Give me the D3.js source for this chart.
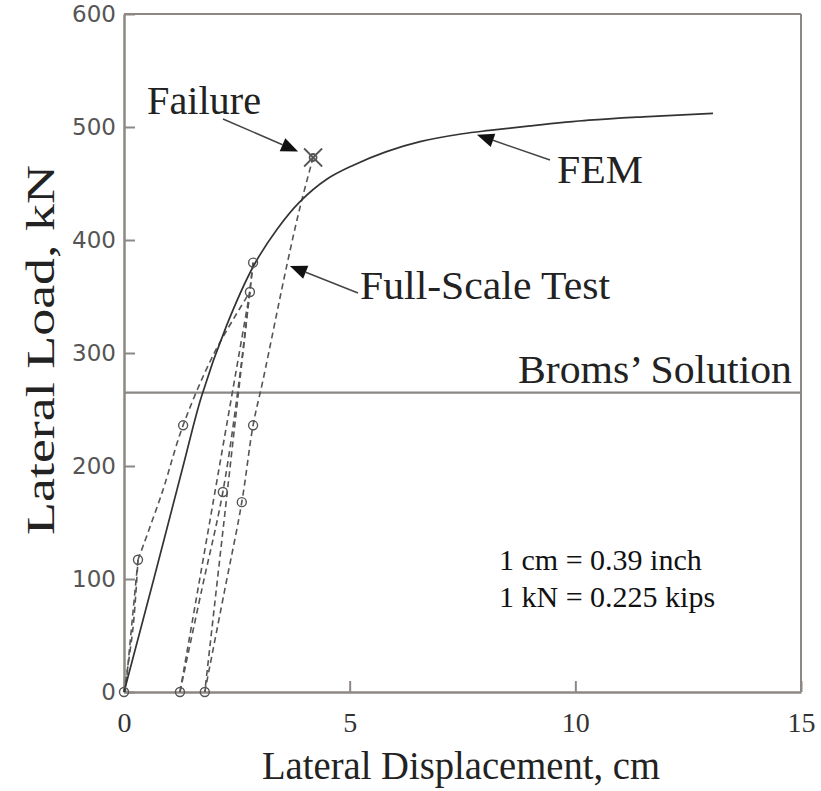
<!DOCTYPE html>
<html>
<head>
<meta charset="utf-8">
<script src="https://cdn.jsdelivr.net/npm/d3@7"></script>
<style>
  html, body { margin: 0; padding: 0; background: #ffffff; }
  svg { display: block; }
</style>
</head>
<body>
<svg id="chart" width="821" height="791"></svg>
<script>
// Tick values
const xTicks = [0, 5, 10, 15];
const yTicks = [0, 100, 200, 300, 400, 500, 600];

// FEM prediction: [displacement cm, load kN]
const femCurve = [
  [0, 0], [0.66, 100], [1.31, 200], [1.72, 262], [2.27, 324], [2.87, 377],
  [3.4, 410], [3.9, 434], [4.5, 454], [5.07, 466], [5.8, 478], [6.56, 487],
  [7.5, 494], [8.1, 497], [9.0, 501], [10.3, 506], [11.5, 509], [13.05, 512]
];

// Full-scale test, load / unload / reload branches
const testLoad0 = [[0, 0], [0.2, 57], [0.31, 117]];
const testUnload0 = [[0.31, 117], [0.03, 0]];
const testLoad1 = [[0.31, 117], [0.84, 176], [1.31, 236], [2.0, 300], [2.79, 354]];
const testUnload1 = [[2.79, 354], [1.24, 0]];
const testReload1 = [[1.24, 0], [1.72, 90], [2.19, 177], [2.55, 275], [2.86, 380]];
const testUnload2 = [[2.86, 380], [1.79, 0]];
const testReload2 = [[1.79, 0], [2.22, 88], [2.61, 168], [2.86, 236], [3.08, 276], [3.61, 378], [3.9, 429], [4.19, 473]];

// Measured points marked with circles
const testPoints = [
  [0, 0], [0.31, 117], [1.31, 236], [2.79, 354], [2.86, 380],
  [1.24, 0], [2.19, 177], [1.79, 0], [2.61, 168], [2.86, 236]
];
const failurePoint = [4.19, 473];

// Broms' ultimate lateral load
const bromsLoad = 265;

const svg = d3.select("#chart");
const x = d3.scaleLinear().domain([0, 15]).range([124, 801]);
const y = d3.scaleLinear().domain([0, 600]).range([692, 14]);

const axisColor = "#8d8883";
const serif = "'Liberation Serif', 'Times New Roman', serif";
const sans = "'DejaVu Sans', Verdana, sans-serif";

// Frame: top and right edges
svg.append("line").attr("x1", x(0)).attr("x2", x(15)).attr("y1", y(600)).attr("y2", y(600))
  .attr("stroke", axisColor).attr("stroke-width", 2);
svg.append("line").attr("x1", x(15)).attr("x2", x(15)).attr("y1", y(600)).attr("y2", y(0))
  .attr("stroke", axisColor).attr("stroke-width", 2);

// Y axis
const gy = svg.append("g").attr("transform", `translate(${x(0)},0)`)
  .call(d3.axisLeft(y).tickValues(yTicks).tickSizeInner(-11).tickSizeOuter(0).tickPadding(8));
gy.select(".domain").attr("stroke", axisColor).attr("stroke-width", 2.5);
gy.selectAll(".tick line").attr("stroke", axisColor).attr("stroke-width", 2);
gy.selectAll(".tick text").attr("font-family", sans).attr("font-size", 23).attr("fill", "#555");

// X axis
const gx = svg.append("g").attr("transform", `translate(0,${y(0)})`)
  .call(d3.axisBottom(x).tickValues(xTicks).tickSizeInner(-11).tickSizeOuter(0).tickPadding(20));
gx.select(".domain").attr("stroke", axisColor).attr("stroke-width", 2.5);
gx.selectAll(".tick line").attr("stroke", axisColor).attr("stroke-width", 2);
gx.selectAll(".tick text").attr("font-family", serif).attr("font-size", 28).attr("fill", "#333");

// Axis titles
svg.append("text").attr("x", 262).attr("y", 779)
  .attr("textLength", 398).attr("lengthAdjust", "spacingAndGlyphs")
  .attr("font-family", serif).attr("font-size", 40).attr("fill", "#222")
  .text("Lateral Displacement, cm");
svg.append("text").attr("transform", "translate(54,535) rotate(-90)")
  .attr("textLength", 370).attr("lengthAdjust", "spacingAndGlyphs")
  .attr("font-family", serif).attr("font-size", 40).attr("fill", "#222")
  .text("Lateral Load, kN");

// Broms' solution
svg.append("line").attr("x1", x(0)).attr("x2", x(15)).attr("y1", y(bromsLoad)).attr("y2", y(bromsLoad))
  .attr("stroke", "#8a8785").attr("stroke-width", 2.2);
svg.append("text").attr("x", 518).attr("y", 383)
  .attr("textLength", 274).attr("lengthAdjust", "spacingAndGlyphs")
  .attr("font-family", serif).attr("font-size", 39).attr("fill", "#222").text("Broms\u2019 Solution");

// Test branches (dashed)
const line = d3.line().x(d => x(d[0])).y(d => y(d[1]));
const smooth = d3.line().x(d => x(d[0])).y(d => y(d[1])).curve(d3.curveCatmullRom.alpha(0.5));
const dashed = [testLoad0, testUnload0, testLoad1, testUnload1, testReload1, testUnload2, testReload2];
svg.append("g").selectAll("path").data(dashed).join("path")
  .attr("d", d => d.length > 2 ? smooth(d) : line(d))
  .attr("fill", "none").attr("stroke", "#555").attr("stroke-width", 1.6)
  .attr("stroke-dasharray", "6,4");

// FEM curve
svg.append("path").datum(femCurve)
  .attr("d", d3.line().x(d => x(d[0])).y(d => y(d[1])).curve(d3.curveCatmullRom.alpha(0.5)))
  .attr("fill", "none").attr("stroke", "#333").attr("stroke-width", 1.7);

// Test point markers
svg.append("g").selectAll("circle").data(testPoints).join("circle")
  .attr("cx", d => x(d[0])).attr("cy", d => y(d[1])).attr("r", 4.5)
  .attr("fill", "none").attr("stroke", "#555").attr("stroke-width", 1.4);

// Failure marker
const fx = x(failurePoint[0]), fy = y(failurePoint[1]);
const fm = svg.append("g").attr("stroke", "#555").attr("stroke-width", 1.8);
fm.append("line").attr("x1", fx - 9).attr("y1", fy - 9).attr("x2", fx + 9).attr("y2", fy + 9);
fm.append("line").attr("x1", fx - 9).attr("y1", fy + 9).attr("x2", fx + 9).attr("y2", fy - 9);
fm.append("circle").attr("cx", fx).attr("cy", fy).attr("r", 3.5).attr("fill", "none");

// Leader arrows with filled heads
function arrow(fromX, fromY, tipX, tipY) {
  const ang = Math.atan2(tipY - fromY, tipX - fromX);
  const len = 17, half = 7;
  const bx = tipX - len * Math.cos(ang), by = tipY - len * Math.sin(ang);
  svg.append("line").attr("x1", fromX).attr("y1", fromY).attr("x2", bx).attr("y2", by)
    .attr("stroke", "#444").attr("stroke-width", 1.5);
  const pts = [
    [tipX, tipY],
    [bx + half * Math.sin(ang), by - half * Math.cos(ang)],
    [bx - half * Math.sin(ang), by + half * Math.cos(ang)]
  ];
  svg.append("polygon").attr("points", pts.map(p => p.join(",")).join(" ")).attr("fill", "#111");
}

arrow(223, 119, fx - 15, fy - 6);
arrow(550, 160, x(7.82), y(494) + 1);
arrow(358, 293, x(3.61) + 3, y(377));

// Annotation labels
const ann = [
  { t: "Failure", x: 147, y: 114, w: 114 },
  { t: "FEM", x: 557, y: 183, w: 86 },
  { t: "Full-Scale Test", x: 360, y: 299, w: 250 }
];
svg.append("g").selectAll("text").data(ann).join("text")
  .attr("x", d => d.x).attr("y", d => d.y)
  .attr("textLength", d => d.w).attr("lengthAdjust", "spacingAndGlyphs")
  .attr("font-family", serif).attr("font-size", 39)
  .attr("fill", "#222").text(d => d.t);

// Unit conversion note
const notes = ["1 cm = 0.39 inch", "1 kN = 0.225 kips"];
svg.append("g").selectAll("text").data(notes).join("text")
  .attr("x", 499).attr("y", (d, i) => 570 + i * 37)
  .attr("font-family", serif).attr("font-size", 30).attr("fill", "#111").text(d => d);
</script>
</body>
</html>
